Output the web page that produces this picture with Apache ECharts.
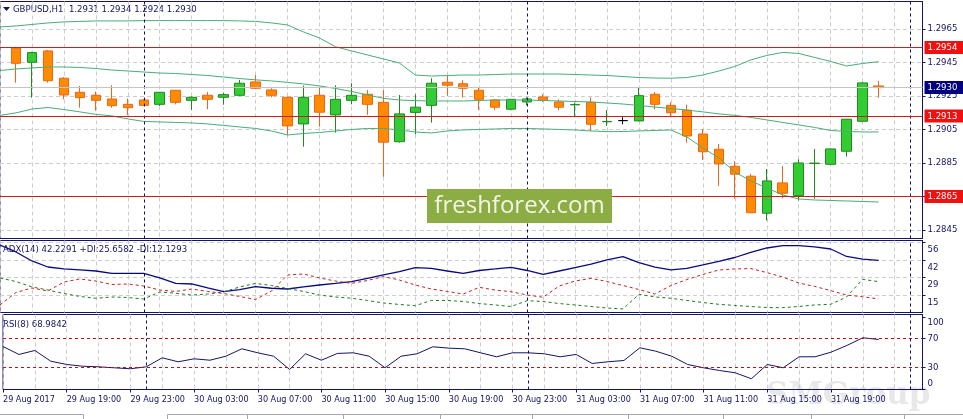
<!DOCTYPE html>
<html><head><meta charset="utf-8">
<script src="https://cdn.jsdelivr.net/npm/echarts@6/dist/echarts.min.js"></script>
<style>html,body{margin:0;padding:0;background:#fff}#c{width:963px;height:419px}</style>
</head><body><div id="c"></div>
<script>
// ---------- data ----------
const symbol = 'GBPUSD,H1';
const lastOHLC = ['1.2931', '1.2934', '1.2924', '1.2930'];
// bars: 29 Aug 16:00 (index 0) ... 31 Aug 22:00 (index 54), H1
const open = [1.29535,1.29451,1.29519,1.29356,1.29272,1.29254,1.29232,1.29200,1.29226,1.29200,
  1.29284,1.29224,1.29254,1.29242,1.29254,1.29334,1.29286,1.29242,1.29083,1.29254,
  1.29137,1.29224,1.29260,1.29212,1.28977,1.29152,1.29194,1.29332,1.29323,1.29284,
  1.29226,1.29171,1.29214,1.29244,1.29214,1.29197,1.29212,1.29096,1.29103,1.29101,
  1.29260,1.29194,1.29165,1.29023,1.28932,1.28830,1.28771,1.28550,1.28731,1.28655,
  1.28847,1.28842,1.28920,1.29099,1.29310];
const close = [1.29445,1.29509,1.29341,1.29256,1.29240,1.29224,1.29192,1.29180,1.29194,1.29272,
  1.29212,1.29242,1.29230,1.29258,1.29326,1.29296,1.29254,1.29071,1.29242,1.29153,
  1.29230,1.29254,1.29200,1.28974,1.29143,1.29183,1.29326,1.29314,1.29296,1.29230,
  1.29183,1.29230,1.29232,1.29224,1.29183,1.29199,1.29081,1.29098,1.29103,1.29252,
  1.29200,1.29150,1.29011,1.28917,1.28844,1.28783,1.28553,1.28743,1.28669,1.28850,
  1.28849,1.28934,1.29111,1.29328,1.29300];
const high = [1.29544,1.29514,1.29525,1.29362,1.29310,1.29276,1.29314,1.29234,1.29232,1.29274,
  1.29286,1.29247,1.29274,1.29270,1.29346,1.29374,1.29296,1.29246,1.29312,1.29302,
  1.29314,1.29326,1.29286,1.29286,1.29256,1.29260,1.29356,1.29371,1.29344,1.29302,
  1.29232,1.29232,1.29242,1.29260,1.29230,1.29210,1.29242,1.29166,1.29123,1.29298,
  1.29274,1.29212,1.29198,1.29053,1.28963,1.28860,1.28784,1.28814,1.28832,1.28872,
  1.28934,1.28936,1.29113,1.29334,1.29340];
const low = [1.29329,1.29240,1.29329,1.29230,1.29180,1.29162,1.29180,1.29135,1.29190,1.29190,
  1.29200,1.29166,1.29171,1.29198,1.29250,1.29292,1.29242,1.29017,1.28947,1.29067,
  1.29031,1.29200,1.29137,1.28768,1.28971,1.29021,1.29091,1.29252,1.29240,1.29166,
  1.29165,1.29165,1.29194,1.29214,1.29166,1.29123,1.29041,1.29071,1.29081,1.29099,
  1.29171,1.29123,1.28971,1.28868,1.28713,1.28637,1.28550,1.28506,1.28639,1.28625,
  1.28637,1.28840,1.28888,1.29097,1.29240];
// indicator values from bar index -1 (29 Aug 15:00) to 54
const bbUpper = [1.29662,1.29668,1.29677,1.29686,1.29692,1.29695,1.29698,1.29698,1.29698,1.29700,
  1.29700,1.29700,1.29700,1.29700,1.29700,1.29698,1.29695,1.29686,1.29674,1.29632,
  1.29596,1.29544,1.29519,1.29495,1.29471,1.29447,1.29375,1.29369,1.29372,1.29375,
  1.29375,1.29378,1.29381,1.29381,1.29381,1.29381,1.29378,1.29375,1.29372,1.29366,
  1.29360,1.29357,1.29356,1.29360,1.29375,1.29399,1.29426,1.29465,1.29492,1.29510,
  1.29504,1.29480,1.29456,1.29429,1.29444,1.29455];
const bbMiddle = [1.29402,1.29411,1.29417,1.29423,1.29423,1.29420,1.29414,1.29405,1.29399,1.29393,
  1.29387,1.29384,1.29378,1.29372,1.29363,1.29354,1.29346,1.29340,1.29331,1.29322,
  1.29310,1.29295,1.29277,1.29256,1.29236,1.29226,1.29222,1.29220,1.29220,1.29220,
  1.29223,1.29226,1.29226,1.29226,1.29223,1.29220,1.29217,1.29214,1.29208,1.29202,
  1.29193,1.29184,1.29175,1.29166,1.29155,1.29143,1.29134,1.29122,1.29107,1.29092,
  1.29077,1.29062,1.29044,1.29038,1.29035,1.29035];
const bbLower = [1.29134,1.29149,1.29172,1.29181,1.29169,1.29155,1.29140,1.29131,1.29113,1.29098,
  1.29095,1.29092,1.29089,1.29083,1.29074,1.29065,1.29056,1.29041,1.29017,1.29026,
  1.29032,1.29041,1.29050,1.29056,1.29056,1.29047,1.29035,1.29029,1.29041,1.29047,
  1.29050,1.29053,1.29056,1.29056,1.29053,1.29050,1.29047,1.29041,1.29037,1.29038,
  1.29041,1.29044,1.29047,1.29005,1.28940,1.28880,1.28796,1.28743,1.28701,1.28659,
  1.28635,1.28629,1.28626,1.28623,1.28620,1.28617];
const adx = [54.1,48.7,41.7,37.0,35.5,34.7,33.9,32.1,32.1,32.1,28.5,24.3,23.8,20.7,17.8,19.5,
  21.7,20.5,19.9,21.5,23.0,24.2,25.6,28.1,30.8,33.5,36.6,36.0,33.9,32.1,34.3,35.5,36.8,34.3,
  31.3,33.9,36.6,39.3,42.5,45.0,40.5,37.0,34.7,36.0,38.6,41.3,44.4,48.3,51.8,53.6,53.6,52.6,
  51.0,45.2,43.2,42.2291];
const plusDI = [28.5,25.7,21.5,19.1,16.4,14.1,12.7,13.7,13.3,12.1,17.6,16.6,15.2,16.0,17.6,21.5,
  24.3,22.6,20.3,18.0,15.2,13.7,12.7,11.0,9.0,7.9,6.9,11.0,11.0,10.2,8.6,7.5,6.3,10.8,10.2,8.6,
  7.5,6.3,5.1,4.4,15.8,13.7,12.7,11.0,9.4,8.0,7.1,6.3,5.5,5.4,6.3,7.5,8.0,13.7,27.4,25.6582];
const minusDI = [7.5,17.2,20.7,18.4,25.3,27.7,26.1,23.4,23.8,22.2,19.1,18.0,19.9,18.0,16.4,14.1,
  11.7,18.4,30.8,31.6,28.5,26.1,24.3,26.5,29.6,26.9,23.0,19.9,18.0,16.0,21.2,19.1,17.8,15.2,
  13.5,22.2,26.1,28.2,25.7,22.6,19.5,16.0,22.6,27.3,31.2,34.7,35.5,35.8,32.7,29.2,24.6,21.9,
  18.7,15.2,13.9,12.1293];
const rsi = [59.3,48.3,53.8,39.0,34.5,32.1,31.3,29.9,28.6,31.3,43.7,38.2,42.3,40.4,45.9,56.1,
  50.6,45.9,27.6,49.2,40.4,49.7,50.6,45.9,29.9,45.9,49.2,58.9,57.0,56.1,50.6,45.1,50.6,50.6,
  49.2,45.1,48.3,35.9,38.2,40.0,57.5,52.8,45.9,34.5,29.9,26.2,23.0,14.8,34.5,29.9,45.1,45.1,
  51.4,60.7,71.3,68.9842];
const levelsRed = [1.2954, 1.2913, 1.2865];
const bidPrice = 1.2930;
const priceTicks = [1.2845, 1.2865, 1.2885, 1.2905, 1.2925, 1.2945, 1.2965];
const adxTicks = [15, 29, 42, 56];
const rsiTicks = [0, 30, 70, 100];
const rsiLevels = [70, 30];
const daySeparators = [8, 32, 56];
const timeTickIndex = [-1, 3, 7, 11, 15, 19, 23, 27, 31, 35, 39, 43, 47, 51];
const timeTickLabels = ['29 Aug 2017', '29 Aug 19:00', '29 Aug 23:00', '30 Aug 03:00', '30 Aug 07:00',
  '30 Aug 11:00', '30 Aug 15:00', '30 Aug 19:00', '30 Aug 23:00', '31 Aug 03:00', '31 Aug 07:00',
  '31 Aug 11:00', '31 Aug 15:00', '31 Aug 19:00'];

// ---------- styling ----------
const FONT = "'DejaVu Sans Condensed','Liberation Sans',sans-serif";
const NAVY = '#141466';
const GRIDC = '#cdcdcd';
const XMIN = -1, XMAX = 56.75;

const gridLines = [];
for (let i = -1; i <= 57; i += 2) gridLines.push(i);

const candleData = open.map((o, i) => {
  const item = { value: [i, o, close[i], low[i], high[i]] };
  if (o === close[i]) item.itemStyle = { color: '#000', borderColor: '#000', borderColor0: '#000', borderColorDoji: '#000' };
  return item;
});
const toLine = arr => arr.map((v, k) => [k - 1, v]);

function xAxisBase(gridIndex) {
  return {
    type: 'value', gridIndex, min: XMIN, max: XMAX,
    axisLine: { show: false, onZero: false },
    axisTick: { show: false, customValues: gridLines },
    axisLabel: { show: false },
    splitLine: { show: true, lineStyle: { color: GRIDC, type: [4, 3], width: 1 } }
  };
}
function sepLine() {
  return {
    symbol: 'none', silent: true, animation: false, precision: 5,
    label: { show: false },
    lineStyle: { color: '#10105a', type: [3, 3], width: 1 },
    data: daySeparators.map(v => ({ xAxis: v }))
  };
}
const priceLabel = (bg) => ({
  show: true, position: 'end', distance: 2, color: '#fff', backgroundColor: bg,
  padding: [2, 8, 1, 3], fontSize: 9.5, fontFamily: FONT,
  formatter: p => Number(p.value).toFixed(4)
});

const chart = echarts.init(document.getElementById('c'));
chart.setOption({
  animation: false,
  backgroundColor: '#fff',
  grid: [
    { left: -1.5, right: 40.5, top: 1.5, height: 237, show: true, borderColor: NAVY, borderWidth: 1, backgroundColor: 'transparent' },
    { left: -1.5, right: 40.5, top: 240.5, height: 72, show: true, borderColor: NAVY, borderWidth: 1, backgroundColor: 'transparent' },
    { left: -1.5, right: 40.5, top: 314.5, height: 75, show: true, borderColor: NAVY, borderWidth: 1, backgroundColor: 'transparent' }
  ],
  xAxis: [
    xAxisBase(0), xAxisBase(1), xAxisBase(2),
    {
      type: 'value', gridIndex: 2, min: XMIN, max: XMAX, position: 'bottom',
      axisLine: { show: false, onZero: false },
      axisTick: { show: true, customValues: timeTickIndex, length: 3, lineStyle: { color: NAVY } },
      axisLabel: {
        show: true, customValues: timeTickIndex, align: 'left', margin: 6,
        color: NAVY, fontSize: 9, fontFamily: FONT,
        formatter: v => timeTickLabels[timeTickIndex.indexOf(Math.round(v))]
      },
      splitLine: { show: false }
    }
  ],
  yAxis: [
    {
      type: 'value', gridIndex: 0, min: 1.28399, max: 1.29814, position: 'right',
      axisLine: { show: true, onZero: false, lineStyle: { color: NAVY } },
      axisTick: { show: true, customValues: priceTicks, length: 3, lineStyle: { color: NAVY } },
      axisLabel: { customValues: priceTicks, formatter: v => v.toFixed(4), margin: 5, color: NAVY, fontSize: 9.5, fontFamily: FONT },
      splitLine: { show: true, lineStyle: { color: GRIDC, type: [4, 3] } }
    },
    {
      type: 'value', gridIndex: 1, min: 1.63, max: 57.62, position: 'right',
      axisLine: { show: true, onZero: false, lineStyle: { color: NAVY } },
      axisTick: { show: true, customValues: adxTicks, length: 3, lineStyle: { color: NAVY } },
      axisLabel: { customValues: adxTicks, margin: 5, color: NAVY, fontSize: 9.5, fontFamily: FONT, verticalAlign: 'top', padding: [2, 0, 0, 0] },
      splitLine: { show: true, lineStyle: { color: GRIDC, type: [4, 3] } }
    },
    {
      type: 'value', gridIndex: 2, min: 0, max: 103.4, position: 'right',
      axisLine: { show: true, onZero: false, lineStyle: { color: NAVY } },
      axisTick: { show: true, customValues: rsiTicks, length: 3, lineStyle: { color: NAVY } },
      axisLabel: {
        customValues: rsiTicks, margin: 5, color: NAVY, fontSize: 9.5, fontFamily: FONT,
        formatter: v => v >= 100 ? '{t|' + v + '}' : (v <= 0 ? '{b|' + v + '}' : '{m|' + v + '}'),
        rich: {
          t: { padding: [11, 0, 0, 0], color: NAVY, fontSize: 9.5, fontFamily: FONT },
          b: { padding: [0, 0, 11, 0], color: NAVY, fontSize: 9.5, fontFamily: FONT },
          m: { color: NAVY, fontSize: 9.5, fontFamily: FONT }
        }
      },
      splitLine: { show: false }
    }
  ],
  series: [
    {
      type: 'candlestick', xAxisIndex: 0, yAxisIndex: 0, barWidth: 10,
      encode: { x: 0, y: [1, 2, 3, 4] },
      itemStyle: { color: '#33cc33', borderColor: '#1f8a1f', color0: '#ff8c00', borderColor0: '#ee6418', borderWidth: 1, borderColorDoji: '#000' },
      data: candleData,
      markLine: sepLine()
    },
    { type: 'line', xAxisIndex: 0, yAxisIndex: 0, data: toLine(bbUpper), showSymbol: false, symbol: 'none', lineStyle: { color: '#4aad78', width: 1 }, z: 4 },
    { type: 'line', xAxisIndex: 0, yAxisIndex: 0, data: toLine(bbMiddle), showSymbol: false, symbol: 'none', lineStyle: { color: '#4aad78', width: 1 }, z: 4 },
    {
      type: 'line', xAxisIndex: 0, yAxisIndex: 0, data: toLine(bbLower), showSymbol: false, symbol: 'none', lineStyle: { color: '#4aad78', width: 1 }, z: 4,
      markLine: {
        symbol: 'none', silent: true, animation: false, precision: 5, z: 6,
        data: [
          { yAxis: bidPrice, lineStyle: { color: '#c4c4c4', type: 'solid', width: 1 }, label: priceLabel('#000080') },
          ...levelsRed.map(v => ({ yAxis: v, lineStyle: { color: '#c81e1e', type: 'solid', width: 1 }, label: priceLabel('#f01010') }))
        ]
      }
    },
    { type: 'line', xAxisIndex: 1, yAxisIndex: 1, data: toLine(adx), showSymbol: false, symbol: 'none', lineStyle: { color: '#0a0a80', width: 1.3 }, markLine: sepLine() },
    { type: 'line', xAxisIndex: 1, yAxisIndex: 1, data: toLine(plusDI), showSymbol: false, symbol: 'none', lineStyle: { color: '#1c7c1c', width: 1, type: [3, 3] } },
    { type: 'line', xAxisIndex: 1, yAxisIndex: 1, data: toLine(minusDI), showSymbol: false, symbol: 'none', lineStyle: { color: '#c42020', width: 1, type: [3, 3] } },
    {
      type: 'line', xAxisIndex: 2, yAxisIndex: 2, data: toLine(rsi), showSymbol: false, symbol: 'none', lineStyle: { color: '#141466', width: 1 },
      markLine: {
        symbol: 'none', silent: true, animation: false, precision: 5,
        data: [
          ...rsiLevels.map(v => ({ yAxis: v, lineStyle: { color: '#c01010', type: [3, 3], width: 1 }, label: { show: false } })),
          ...daySeparators.map(v => ({ xAxis: v, lineStyle: { color: '#10105a', type: [3, 3], width: 1 }, label: { show: false } }))
        ]
      }
    }
  ],
  graphic: [
    { type: 'polygon', shape: { points: [[3, 7], [10, 7], [6.5, 11]] }, style: { fill: NAVY } },
    { type: 'text', x: 13, y: 9.5, style: { text: symbol + '  ' + lastOHLC.join(' '), fill: NAVY, fontSize: 9.5, fontFamily: FONT, verticalAlign: 'middle', textVerticalAlign: 'middle' } },
    { type: 'text', x: 3, y: 250, style: { text: 'ADX(14) ' + adx[adx.length - 1].toFixed(4) + ' +DI:' + plusDI[plusDI.length - 1].toFixed(4) + ' -DI:' + minusDI[minusDI.length - 1].toFixed(4), fill: NAVY, fontSize: 9.5, fontFamily: FONT, verticalAlign: 'middle', textVerticalAlign: 'middle' } },
    { type: 'text', x: 3, y: 325, style: { text: 'RSI(8) ' + rsi[rsi.length - 1].toFixed(4), fill: NAVY, fontSize: 9.5, fontFamily: FONT, verticalAlign: 'middle', textVerticalAlign: 'middle' } },
    { type: 'rect', shape: { x: 427, y: 189, width: 185, height: 34 }, style: { fill: '#8cad44' }, z: 50 },
    { type: 'text', x: 519.5, y: 206, z: 51, style: { text: 'freshforex.com', fill: '#f4f4e6', fontSize: 24, fontFamily: 'Open Sans', align: 'center', textAlign: 'center', verticalAlign: 'middle', textVerticalAlign: 'middle' } },
    { type: 'text', x: 766, y: 396, z: -1, style: { text: 'SMGroup', fill: '#e8e8e8', fontSize: 31, fontWeight: 'bold', fontFamily: 'DejaVu Serif', verticalAlign: 'middle', textVerticalAlign: 'middle' } },
    { type: 'polyline', shape: { points: [[0, 414.5], [83.5, 414.5], [83.5, 419]] }, style: { stroke: '#a8a8a8', fill: null, lineWidth: 1 } },
    { type: 'polyline', shape: { points: [[167.5, 419], [167.5, 414.5], [963, 414.5]] }, style: { stroke: '#a8a8a8', fill: null, lineWidth: 1 } },
    ...[247, 343, 440, 532, 628, 723, 811, 904].map(x => ({ type: 'line', shape: { x1: x + 0.5, y1: 414.5, x2: x + 0.5, y2: 419 }, style: { stroke: '#a8a8a8', lineWidth: 1 } }))
  ]
});
</script>
</body></html>
